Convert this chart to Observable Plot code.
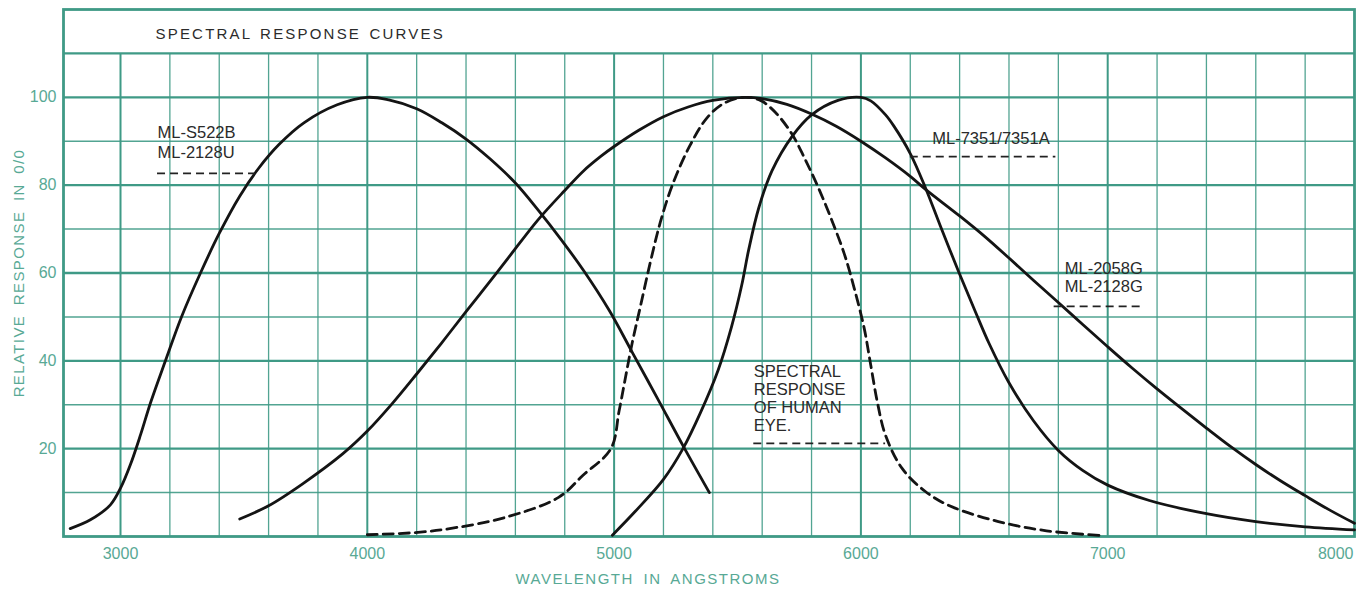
<!DOCTYPE html>
<html><head><meta charset="utf-8">
<script src="https://cdn.jsdelivr.net/npm/d3@7"></script>
<script src="https://cdn.jsdelivr.net/npm/@observablehq/plot@0.6"></script>
<style>
html,body{margin:0;padding:0;background:#fff;}
#chart svg{display:block;}
</style></head><body><div id="chart"></div>
<script>
// ---- data ----
const chartTitle = "SPECTRAL RESPONSE CURVES";
const xTitle = "WAVELENGTH IN ANGSTROMS";
const yTitle = "RELATIVE RESPONSE IN 0/0";
const xTicks = [3000, 4000, 5000, 6000, 7000, 8000];
const yTicks = [20, 40, 60, 80, 100];

// ML-S522B / ML-2128U
const s522bWl  = [2796, 2878, 2959, 3000, 3041, 3082, 3122, 3182, 3247, 3324, 3400, 3483, 3559, 3643, 3743, 3878, 4000, 4087, 4200, 4302, 4400, 4497, 4600, 4690, 4787, 4877, 4980, 5073, 5180, 5279, 5386];
const s522bVal = [1.8, 3.8, 7.2, 11, 16.5, 23.3, 30.5, 40, 50, 60, 69, 77.5, 83.8, 89.3, 94.2, 98.3, 100, 99.4, 97.4, 94.2, 90.5, 86, 80.5, 74.5, 67.5, 60.5, 51.5, 42, 31, 20.7, 10];

// ML-2058G / ML-2128G
const g2058Wl  = [3483, 3600, 3738, 3900, 4000, 4100, 4200, 4300, 4400, 4517, 4579, 4690, 4800, 4877, 4947, 5000, 5100, 5200, 5300, 5400, 5530, 5600, 5700, 5800, 5900, 6000, 6100, 6200, 6263, 6400, 6500, 6600, 6700, 6800, 6900, 7000, 7100, 7200, 7300, 7400, 7500, 7600, 7700, 7800, 7900, 8000];
const g2058Val = [4, 7, 12, 18.8, 24, 30.2, 37, 44, 51.2, 59.5, 64, 72, 78.8, 83.3, 86.6, 88.8, 92.5, 95.6, 97.8, 99.3, 100, 99.7, 98.4, 96.2, 93.4, 90, 86.2, 82, 79, 73, 68.4, 63.4, 58.3, 53.3, 48.2, 43.2, 38.3, 33.6, 29.1, 24.7, 20.4, 16.4, 12.7, 9.3, 6, 3];

// ML-7351/7351A
const m7351Wl  = [4993, 5087, 5200, 5279, 5350, 5421, 5476, 5517, 5545, 5586, 5640, 5720, 5800, 5907, 6000, 6040, 6100, 6133, 6200, 6263, 6320, 6396, 6463, 6519, 6600, 6700, 6800, 6900, 7000, 7169, 7400, 7600, 7800, 8000];
const m7351Val = [0.3, 5.8, 13, 20, 28.2, 37.8, 47.8, 57.2, 65.2, 74.8, 83.3, 91, 96, 99.3, 100, 99.2, 96, 93.5, 87.2, 79.2, 71, 60.3, 51.3, 44, 35, 26.3, 19.6, 15, 11.7, 8.2, 5.2, 3.4, 2.2, 1.5];

// Spectral response of human eye
const eyeWl  = [4000, 4195, 4357, 4556, 4775, 4873, 4987, 5020, 5047, 5073, 5107, 5147, 5187, 5236, 5307, 5379, 5450, 5530, 5593, 5653, 5720, 5773, 5827, 5880, 5933, 5973, 6013, 6040, 6067, 6100, 6167, 6260, 6359, 6557, 6752, 6980];
const eyeVal = [0.4, 0.9, 2, 4.3, 8.9, 13.9, 20, 28.5, 36.5, 44, 52.5, 62.5, 71.5, 80, 89, 95.5, 98.8, 100, 99.3, 96.6, 91.7, 86, 79.5, 72.3, 64.3, 56.5, 47.5, 39, 30.5, 23, 15.5, 10.3, 7, 3.4, 1.3, 0.2];

// curve annotations (data units)
const labelText = ["ML-S522B", "ML-2128U", "ML-7351/7351A", "ML-2058G", "ML-2128G", "SPECTRAL", "RESPONSE", "OF HUMAN", "EYE."];
const labelWl   = [3150, 3150, 6289, 6826, 6826, 5566, 5566, 5566, 5566];
const labelVal  = [91.9, 87.3, 90.6, 61.0, 56.8, 37.6, 33.5, 29.3, 25.2];
const leaderFrom = [3150, 6200, 6783, 5566];
const leaderTo   = [3547, 6790, 7140, 6100];
const leaderVal  = [82.7, 86.5, 52.4, 21.2];

// ---- build tables ----
const toRows = (name, wl, val) => wl.map((w, i) => ({series: name, wl: w, val: val[i]}));
const solidRows = [
  ...toRows("ML-S522B", s522bWl, s522bVal),
  ...toRows("ML-2058G", g2058Wl, g2058Val),
  ...toRows("ML-7351", m7351Wl, m7351Val)
];
const eyeRows = toRows("eye", eyeWl, eyeVal);
const labels = labelText.map((t, i) => ({text: t, x: labelWl[i], y: labelVal[i]}));
const leaders = leaderFrom.map((a, i) => ({x1: a, x2: leaderTo[i], y: leaderVal[i]}));

const xMinor = d3.range(3200, 8000, 200).filter(v => v % 1000 !== 0);
const xMajor = [3000, 4000, 5000, 6000, 7000];
const yMinor = [10, 30, 50, 70, 90];
const yMajor = [20, 40, 60, 80, 100, 110];

const teal = "#3f9a86";
const tealText = "#58a995";
const ink = "#141414";
const font = "'Liberation Sans', Arial, Helvetica, sans-serif";

const chart = Plot.plot({
  width: 1366,
  height: 591,
  marginLeft: 63,
  marginRight: 12,
  marginTop: 9,
  marginBottom: 55,
  style: {fontFamily: font, background: "#fff"},
  x: {domain: [2769, 8000], axis: null},
  y: {domain: [0, 120], axis: null},
  marks: [
    Plot.ruleX(xMinor, {y1: 0, y2: 110, stroke: teal, strokeWidth: 1.3, strokeOpacity: 0.9}),
    Plot.ruleX(xMajor, {y1: 0, y2: 110, stroke: teal, strokeWidth: 2}),
    Plot.ruleY(yMinor, {stroke: teal, strokeWidth: 1.5, strokeOpacity: 0.9}),
    Plot.ruleY(yMajor, {stroke: teal, strokeWidth: 2.4}),
    Plot.frame({stroke: teal, strokeWidth: 2.8}),
    Plot.line(solidRows, {x: "wl", y: "val", z: "series", curve: "catmull-rom", stroke: ink, strokeWidth: 2.8}),
    Plot.line(eyeRows, {x: "wl", y: "val", curve: "catmull-rom", stroke: ink, strokeWidth: 2.8, strokeDasharray: "10,6"}),
    Plot.ruleY(leaders, {y: "y", x1: "x1", x2: "x2", stroke: "#222", strokeWidth: 1.7, strokeDasharray: "8,5"}),
    Plot.text(labels, {x: "x", y: "y", text: "text", textAnchor: "start", lineAnchor: "middle", fontSize: 16.5, fill: "#2a2a2a"}),
    Plot.text([chartTitle], {frameAnchor: "top-left", dx: 92, dy: 24.5, textAnchor: "start", lineAnchor: "middle", fontSize: 15, fill: "#2b2b2b"}),
    Plot.text(yTicks, {y: d => d, text: d => String(d), frameAnchor: "left", textAnchor: "end", lineAnchor: "middle", dx: -7, fontSize: 16, fill: tealText}),
    Plot.text(xTicks.slice(0, 5), {x: d => d, text: d => String(d), frameAnchor: "bottom", textAnchor: "middle", lineAnchor: "middle", dy: 17, fontSize: 16, fill: tealText}),
    Plot.text(xTicks.slice(5), {x: d => d, text: d => String(d), frameAnchor: "bottom", textAnchor: "end", lineAnchor: "middle", dy: 17, dx: -1, fontSize: 16, fill: tealText}),
    Plot.text([xTitle], {frameAnchor: "bottom", textAnchor: "middle", lineAnchor: "middle", dy: 42.5, dx: -61, fontSize: 15, fill: tealText}),
    Plot.text([yTitle], {frameAnchor: "left", rotate: -90, textAnchor: "middle", lineAnchor: "middle", dx: -44, fontSize: 15, fill: tealText})
  ]
});

const spacing = [[chartTitle, "2.2px", "2px"], [xTitle, "1.5px", "4px"], [yTitle, "1.4px", "4px"]];
d3.select(chart).selectAll("text").each(function() {
  const s = spacing.find(d => d[0] === this.textContent);
  if (s) d3.select(this).style("letter-spacing", s[1]).style("word-spacing", s[2]);
});

document.getElementById("chart").appendChild(chart);
</script></body></html>
